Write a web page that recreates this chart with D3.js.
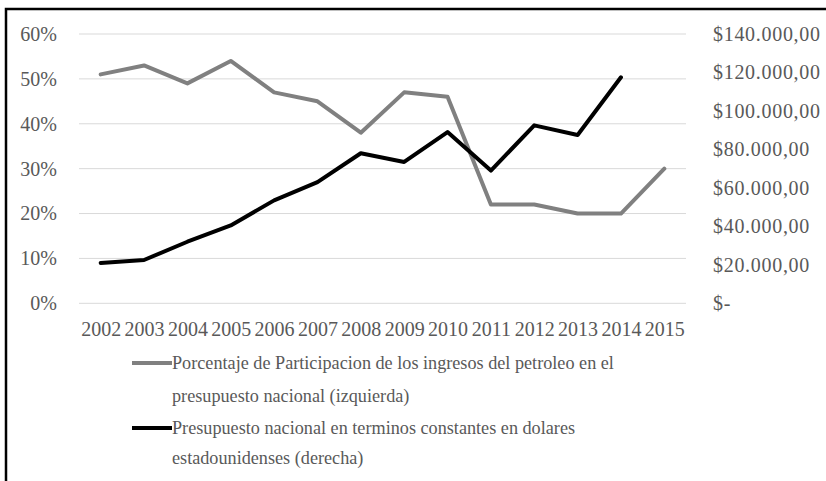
<!DOCTYPE html>
<html>
<head>
<meta charset="utf-8">
<script src="https://cdn.jsdelivr.net/npm/d3@7"></script>
<style>
  html, body { margin: 0; padding: 0; background: #fff; }
  svg { display: block; }
</style>
</head>
<body>
<svg id="chart" width="826" height="481"></svg>
<script>
// Years on the horizontal axis
const years = ["2002","2003","2004","2005","2006","2007","2008","2009","2010","2011","2012","2013","2014","2015"];
// Share of oil revenue in the national budget (left axis)
const oilShare = [0.51, 0.53, 0.49, 0.54, 0.47, 0.45, 0.38, 0.47, 0.46, 0.22, 0.22, 0.20, 0.20, 0.30];
// National budget in constant US dollars (right axis); no figure for 2015
const budgetUSD = [21000, 22500, 32000, 40500, 53500, 63000, 78000, 73500, 89000, 69000, 92500, 87500, 117500, null];
// Tick values
const leftTicks = [0, 0.1, 0.2, 0.3, 0.4, 0.5, 0.6];
const rightTicks = [0, 20000, 40000, 60000, 80000, 100000, 120000, 140000];
// Legend entries
const legendItems = [
  { lines: ["Porcentaje de Participacion de los ingresos del petroleo en el", "presupuesto nacional (izquierda)"], color: "#808080" },
  { lines: ["Presupuesto nacional en terminos constantes en dolares", "estadounidenses (derecha)"], color: "#000000" }
];

const FONT = '"Liberation Serif", "Tinos", "Times New Roman", serif';
const TEXT_COLOR = "#595959";

const svg = d3.select("#chart");
const plot = { left: 79, right: 686, top: 34, bottom: 303.3 };

const x = d3.scalePoint().domain(years).range([plot.left, plot.right]).padding(0.5);
const yL = d3.scaleLinear().domain([0, 0.6]).range([plot.bottom, plot.top]);
const yR = d3.scaleLinear().domain([0, 140000]).range([plot.bottom, plot.top]);

function styleText(sel, size) {
  sel.style("font-family", FONT).style("font-size", size + "px").style("fill", TEXT_COLOR);
}

// Outer frame (open at right and bottom)
svg.append("path")
  .attr("d", "M6,490 L6,9 L840,9")
  .attr("fill", "none").attr("stroke", "#000").attr("stroke-width", 2.5);

// Horizontal gridlines
svg.append("g").selectAll("line").data(leftTicks).join("line")
  .attr("x1", plot.left).attr("x2", plot.right)
  .attr("y1", d => yL(d)).attr("y2", d => yL(d))
  .attr("stroke", "#d9d9d9").attr("stroke-width", 1);

// Left axis (percent)
const fmtPct = d3.format(".0%");
const leftAxis = svg.append("g").attr("transform", `translate(${plot.left},0)`)
  .call(d3.axisLeft(yL).tickValues(leftTicks).tickFormat(fmtPct).tickSize(0).tickPadding(22));
leftAxis.select(".domain").remove();
styleText(leftAxis.selectAll("text"), 20);

// Right axis (dollars, es format)
const locale = d3.formatLocale({ decimal: ",", thousands: ".", grouping: [3], currency: ["$", ""] });
const fmtUSD = locale.format("$,.2f");
const rightAxis = svg.append("g").attr("transform", `translate(${plot.right},0)`)
  .call(d3.axisRight(yR).tickValues(rightTicks)
    .tickFormat(d => d === 0 ? "$-" : fmtUSD(d)).tickSize(0).tickPadding(27));
rightAxis.select(".domain").remove();
styleText(rightAxis.selectAll("text"), 20);
rightAxis.selectAll("text").style("letter-spacing", "0.7px");

// Bottom axis (years)
const bottomAxis = svg.append("g").attr("transform", `translate(0,${plot.bottom})`)
  .call(d3.axisBottom(x).tickSize(0).tickPadding(19));
bottomAxis.select(".domain").remove();
styleText(bottomAxis.selectAll("text"), 20);

// Lines
const lineL = d3.line().x((d, i) => x(years[i])).y(d => yL(d));
const lineR = d3.line().defined(d => d != null).x((d, i) => x(years[i])).y(d => yR(d));

svg.append("path").datum(oilShare)
  .attr("d", lineL).attr("fill", "none").attr("stroke", "#808080")
  .attr("stroke-width", 4).attr("stroke-linejoin", "round").attr("stroke-linecap", "round");

svg.append("path").datum(budgetUSD)
  .attr("d", lineR).attr("fill", "none").attr("stroke", "#000")
  .attr("stroke-width", 4).attr("stroke-linejoin", "round").attr("stroke-linecap", "round");

// Legend: swatch on the first line of each entry, text wraps to a second line
const legend = svg.append("g");
const rowY = [[363, 396], [428, 458]];
legendItems.forEach((item, k) => {
  const y0 = rowY[k][0];
  legend.append("line")
    .attr("x1", 132).attr("x2", 172).attr("y1", y0).attr("y2", y0)
    .attr("stroke", item.color).attr("stroke-width", 4);
  item.lines.forEach((t, j) => {
    styleText(legend.append("text")
      .attr("x", 172)
      .attr("y", rowY[k][j])
      .attr("dy", "0.35em")
      .text(t), 18.2);
  });
});
</script>
</body>
</html>
